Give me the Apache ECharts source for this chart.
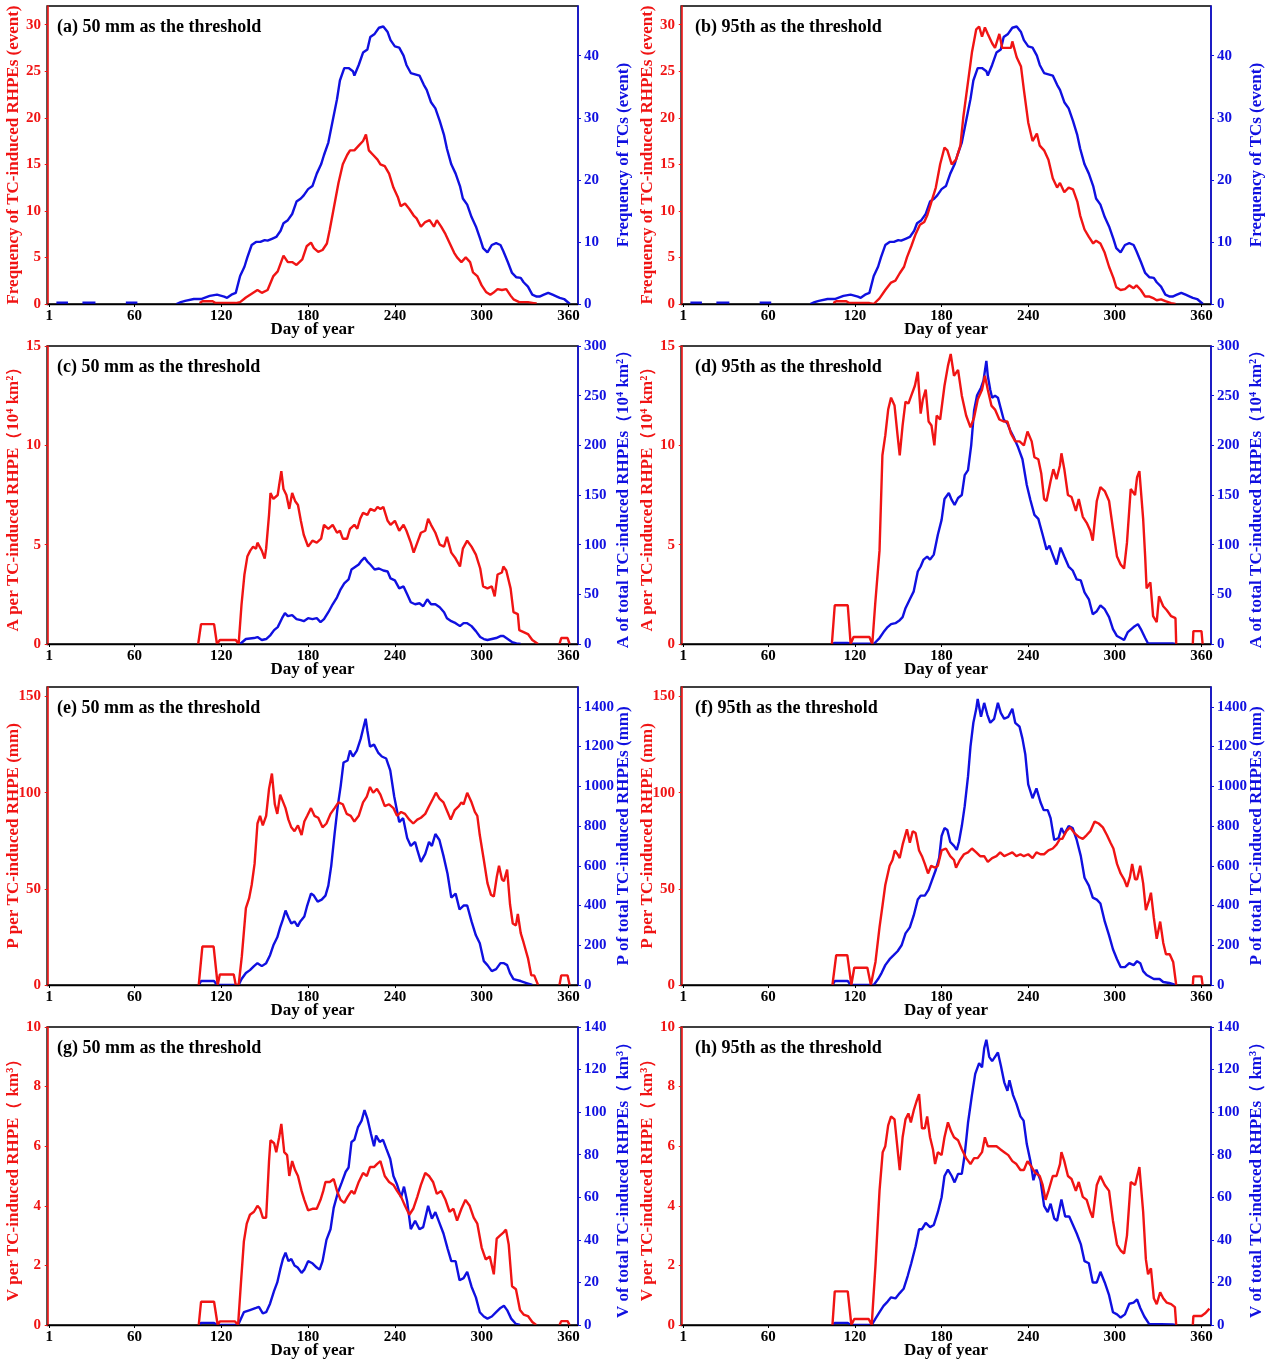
<!DOCTYPE html>
<html><head><meta charset="utf-8">
<script src="https://cdn.jsdelivr.net/npm/echarts@6/dist/echarts.min.js"></script>
<style>html,body{margin:0;padding:0;background:#fff}#c{width:1266px;height:1362px}</style>
</head><body><div id="c"></div>
<script>
// ---------- tick labels ----------
const dayTicks = [1, 60, 120, 180, 240, 300, 360];
const freqTicks = [0, 5, 10, 15, 20, 25, 30];
const tcTicks = [0, 10, 20, 30, 40];
const areaTicks = [0, 5, 10, 15];
const areaTotTicks = [0, 50, 100, 150, 200, 250, 300];
const precTicks = [0, 50, 100, 150];
const precTotTicks = [0, 200, 400, 600, 800, 1000, 1200, 1400];
const volTicks = [0, 2, 4, 6, 8, 10];
const volTotTicks = [0, 20, 40, 60, 80, 100, 120, 140];

// ---------- series values: [day of year, value]; null = no value ----------
const tcFreq = [[6,0.2],[14,0.2],[15,null],[24,0.2],[33,0.2],[34,null],[54,0.2],[62,0.2],[63,null],[89,0],[92,0.3],[95,0.5],[101,0.8],[106,0.8],[112,1.3],[117,1.5],[122,1.2],[124,1.0],[127,1.5],[130,1.8],[133,4.5],[136,6],[138,7.5],[141,9.5],[144,10],[147,10],[150,10.3],[152,10.2],[155,10.5],[158,10.8],[161,11.8],[163,13],[166,13.5],[169,14.5],[172,16.5],[175,17],[177,17.5],[180,18.5],[183,19],[186,21],[189,22.5],[191,24],[194,26],[197,29.5],[200,33],[202,36],[205,38],[208,38],[211,37.5],[212,36.8],[215,38.5],[218,40.5],[221,41],[223,43],[226,43.5],[229,44.5],[232,44.7],[235,43.8],[237,42.5],[240,41.5],[243,41.3],[246,40],[248,38.5],[251,37.2],[254,37],[257,36.8],[260,35.3],[262,34.5],[265,32.5],[268,31.5],[271,29.5],[274,27.2],[276,25],[279,22.5],[282,21],[285,19],[287,17],[290,16],[293,14],[296,12.5],[299,10.5],[301,9],[304,8.3],[307,9.5],[310,9.8],[313,9.5],[315,8.5],[318,6.8],[321,5],[324,4.3],[327,4.2],[329,3.5],[332,2.8],[335,1.5],[338,1.2],[340,1.2],[343,1.5],[346,1.8],[349,1.5],[352,1.2],[354,1.0],[357,0.8],[360,0.2],[361,0]];

const freq50 = [[105,0.1],[107,0.3],[114,0.3],[116,0.1],[130,0.1],[133,0.2],[137,0.7],[141,1.1],[145,1.5],[148,1.2],[152,1.5],[156,3],[159,3.5],[163,5.2],[166,4.5],[169,4.5],[172,4.2],[176,4.8],[179,6.2],[182,6.6],[184,6],[187,5.6],[190,5.8],[193,6.5],[195,8],[198,10.5],[201,13],[204,15],[207,16],[209,16.5],[212,16.5],[215,17],[218,17.5],[220,18.2],[222,16.5],[225,16],[228,15.5],[230,15],[233,14.8],[236,14],[239,12.5],[242,11.5],[244,10.5],[247,10.8],[250,10.2],[253,9.5],[255,9.2],[258,8.3],[261,8.8],[264,9],[267,8.3],[269,9],[272,8.3],[275,7.5],[278,6.5],[281,5.5],[283,5],[286,4.5],[289,5],[292,4.5],[294,3.4],[297,3],[300,2],[303,1.3],[306,1],[308,1.2],[311,1.6],[314,1.5],[317,1.6],[320,0.9],[322,0.5],[326,0.2],[332,0.2],[336,0.1],[338,0.05]];

const freq95 = [[105,0.1],[107,0.3],[114,0.3],[116,0.1],[130,0.1],[133,0],[137,0.6],[141,1.5],[145,2.3],[148,2.5],[151,3.3],[154,4],[156,5],[159,6.2],[162,7.5],[165,8.5],[168,8.8],[170,9.5],[173,11],[176,12.5],[179,15],[182,16.8],[183,17],[184,16.5],[187,15],[190,15.5],[193,17],[195,20],[198,23.5],[201,27],[204,29.5],[206,29.8],[208,28.7],[210,29.7],[212,29],[215,28],[217,27.5],[220,29],[222,27.5],[225,27.5],[228,27.5],[229,28.2],[232,26.5],[235,25.5],[237,23],[240,19.5],[243,17.5],[246,18.3],[248,17],[251,16.5],[254,15.5],[257,13.5],[260,12.5],[262,13],[265,12],[268,12.5],[271,12.3],[274,11],[276,9.5],[279,8],[282,7.2],[285,6.5],[287,6.8],[290,6.5],[293,5.5],[296,4],[299,2.8],[301,1.8],[304,1.5],[307,1.6],[310,2],[313,1.7],[315,2],[318,1.5],[321,0.8],[324,0.8],[327,0.6],[329,0.4],[332,0.5],[335,0.3],[339,0.1],[342,0]];

const areaPer50 = [[104,0],[106,1.0],[115,1.0],[117,0],[119,0.2],[130,0.2],[132,0],[134,2],[136,3.5],[138,4.4],[140,4.7],[142,4.9],[144,4.8],[145,5.1],[148,4.7],[150,4.3],[151,4.8],[153,6.5],[154,7.6],[156,7.3],[159,7.5],[160,8],[161.5,8.7],[163,7.8],[165,7.5],[167,6.8],[169,7.6],[171,7.2],[173,7],[175,6.2],[177,5.5],[180,4.9],[183,5.2],[186,5.1],[189,5.3],[191,6],[194,5.8],[197,6],[200,5.6],[202,5.7],[204,5.3],[207,5.3],[209,5.8],[212,6],[214,5.8],[216,6.3],[218,6.6],[221,6.5],[223,6.8],[226,6.7],[228,6.9],[230,6.8],[232,6.9],[235,6.2],[237,6.0],[240,6.2],[243,5.7],[246,6.0],[248,5.7],[251,5.1],[253,4.6],[255,5],[258,5.6],[261,5.7],[263,6.3],[265,6],[268,5.6],[271,5.0],[274,4.9],[276,5.4],[279,4.6],[282,4.3],[285,3.9],[287,4.8],[290,5.2],[293,4.9],[296,4.5],[299,3.8],[301,2.9],[304,2.8],[307,2.9],[309,2.4],[311,3.5],[314,3.6],[315,3.9],[317,3.7],[320,2.8],[322,1.6],[325,1.5],[326,0.7],[329,0.6],[332,0.5],[335,0.2],[338,0.05],[339,0],[346,null],[353.8,0],[355,0.3],[359.4,0.3],[360.8,0]];

const areaTot50 = [[131,0],[133,0],[137,5],[142.6,6],[145,7],[148,4],[151,5],[154,9],[156.5,14],[159,17],[162,26],[164,31],[166,28],[169,29],[172,25],[175,24],[177,23],[180,26],[183,25],[186,26],[188.6,22],[191,25],[194,32],[197,40],[200,47],[202.5,55],[205,61],[208,65],[210,75],[212,77],[215,80],[217,84],[219,87],[221,83],[223,80],[226,75],[229,76],[232,74],[235,73],[237,66],[240,64],[243,56],[246,58],[248.5,50],[251,42],[254,40],[257,41],[259.6,38],[262.4,45],[265,40],[268,40],[271,37],[274,32],[276,26],[279,23],[282,21],[285,18],[287.5,21],[290,21],[293,18],[296,13],[299,7],[301.5,5],[304,4],[307,5],[310,6],[313,8],[315,8],[318,5],[321,2],[324,0.5],[327,0]];

const areaPer95 = [[104,0],[106,1.95],[115,1.95],[117,0],[119,0.35],[130,0.35],[132,0],[134,2],[137,4.7],[139,9.5],[141,10.5],[143,11.8],[145,12.4],[147.4,12],[149.5,10.5],[151,9.5],[153,11],[155,12.2],[157,12.1],[159,12.5],[161.5,13],[163.5,13.7],[165.5,11.6],[167,12.3],[169,12.8],[171,11.2],[173,11],[175,10],[176.6,11.5],[179,11.3],[180,11.3],[182,13],[184.4,14],[186.3,14.6],[188.6,13.5],[191.4,13.8],[194,12.5],[197,11.5],[200,10.9],[202.5,11.4],[205,12.3],[208,12.8],[210,13.5],[212,12.8],[214.5,12.0],[217,11.8],[220,11.3],[223,11.2],[225.6,11.2],[228,10.6],[231,10.2],[234,10.2],[237,10.0],[239.5,10.7],[242.4,10.2],[244.3,9.4],[247,9.3],[249,8.6],[251,7.3],[252.7,7.2],[255.5,8.2],[257.4,8.8],[259.6,8.3],[262,9],[263,9.6],[265,8.8],[267.5,7.5],[270,7.4],[273,6.7],[275,7.3],[277.8,6.4],[280.5,6.1],[283,5.7],[284.7,5.2],[287.5,7.2],[290,7.9],[293,7.7],[296,7.2],[298.7,5.8],[301.5,4.4],[304,4.0],[306.4,3.8],[308.4,5.1],[311,7.8],[314,7.5],[315.4,8.4],[317,8.7],[319.6,6.3],[321,4.4],[322,2.8],[324.6,3.1],[326.5,1.4],[329,1.1],[330.6,2.4],[333.5,1.9],[336,1.7],[339,1.4],[342,1.3],[342.5,0],[348,null],[354,0],[354.4,0.65],[360,0.65],[360.8,0]];

const areaTot95 = [[104,0],[106,1],[115,1],[117,0.3],[131,0.3],[133,0],[137,6],[139.8,12],[142.6,17],[145,20],[148,21],[151,24],[153,27],[155,36],[158,45],[160.7,53],[163.5,73],[165.5,78],[167.5,85],[170,88],[172,85],[174.6,90],[177.4,110],[180,125],[182,146],[185,152],[187,145],[189,140],[191.4,147],[194,150],[196,170],[198.3,175],[200.5,200],[202.5,235],[204.5,250],[207.3,258],[209,265],[211,285],[212,270],[213.7,256],[215,248],[217,250],[219,248],[221,237],[223,226],[225.6,222],[227.6,215],[230,208],[233,198],[236,186],[239,160],[241.5,145],[244.3,130],[247,126],[250,110],[252.7,95],[254.7,99],[257,90],[259.6,80],[262.4,97],[265,88],[268,78],[270.8,74],[273.6,65],[276.4,64],[279,52],[282,45],[284.7,30],[287.5,33],[290,39],[293,35],[296,27],[298.7,15],[301.5,8],[304,6],[306.4,4],[309,12],[313,17],[316,20],[318,15],[321,6],[323,0.5],[340,0.5],[342,0]];

const precPer50 = [[104.4,0],[106.9,20],[114.7,20],[117.5,0],[119,5.5],[128.6,5.5],[130,0],[132,0],[134.2,15],[137,40],[139.2,45],[141,52],[143,63],[145,84],[146.8,88],[148.7,83],[151,88],[153,102],[155,110],[157,94],[158.7,89],[160.7,99],[162,100],[164.4,92],[166.4,86],[168.4,82],[170.6,80],[173,83],[175.5,78],[177.4,85],[179.4,88],[182,92],[184.4,88],[187,87],[190,82],[192.7,84],[195.5,89],[198.3,92],[201,95],[204,94],[206.7,89],[209.5,88],[212,85],[215,88],[218,95],[220.6,98],[222.8,103],[225,100],[227.6,102],[230,99],[233,93],[236,94],[239,92],[241.5,88],[244.3,90],[247,89],[250,86],[252.7,84],[255.5,86],[258,87],[261,89],[263.6,93],[266.4,97],[268.4,100],[270.8,97],[273.6,95],[276.4,90],[278.6,86],[281.4,91],[284.2,93],[286,95],[287.5,94],[290,100],[293,95],[295.3,90],[297,88],[298.7,78],[301.5,65],[304,53],[306.4,47],[308.4,46],[310.4,56],[312,62],[314,55],[315.4,54],[317.6,60],[319.6,42],[321.5,32],[323.7,31],[325,37],[327,27],[329,22],[332,14],[334.3,5],[336.3,5],[339,0],[346,null],[353.8,0],[355,5],[359.4,5],[360.8,0]];

const precTot50 = [[104.4,0],[106,20],[115,20],[117,0],[132,0],[134,30],[137,60],[139.8,75],[142.6,95],[145,110],[148,95],[151,110],[153.7,150],[156,200],[158.7,240],[160.7,290],[162.6,330],[164.4,375],[166.4,340],[168.4,310],[170.6,320],[172.8,295],[174.6,320],[177.4,345],[179.4,400],[182,460],[184,450],[186.6,420],[189.4,430],[192,450],[194,500],[196,600],[198.3,760],[200.5,900],[202.5,1000],[204.5,1120],[207.3,1130],[209,1180],[211,1150],[213.7,1180],[216.4,1240],[218.4,1300],[219.8,1340],[221,1280],[222.8,1200],[225.6,1210],[228.4,1170],[231,1150],[234,1140],[236.8,1080],[239.5,950],[243,820],[245.7,840],[248.5,740],[251,700],[254,720],[255.5,680],[258,620],[261,660],[263.6,720],[265.6,700],[268,760],[270.8,730],[273.6,650],[276.4,560],[279,440],[282,460],[284.7,380],[287.5,400],[290,400],[293,320],[296,250],[298.7,210],[301.5,120],[304,100],[307,70],[310,80],[313,110],[315.4,110],[317.6,100],[319.6,60],[322,30],[327,20],[331,10],[335,0]];

const precPer95 = [[104.4,0],[107,15.5],[114.7,15.5],[117.5,0],[119.5,9],[128.6,9],[131,0],[134.2,12],[137,30],[139.2,42],[141,52],[144,62],[146,65],[147.6,70],[149.5,68],[151,66],[153,73],[156,81],[158,74],[160,80],[162,79],[164.4,70],[166.4,67],[168.4,63],[170.6,58],[172.8,62],[175.5,61],[177.4,62],[180,70],[183,71],[186,67],[188.6,65],[190,61],[192.7,65],[195.5,68],[198.3,69],[201,71],[204,69],[206.7,67],[209.5,67],[212,64],[215,66],[218,67],[220.6,69],[223.4,67],[226.2,68],[229,69],[231.8,67],[234.6,68],[237,67],[240,68],[243,66],[245.7,69],[248.5,68],[251,68],[254,70],[257,71],[259.6,73],[262,76],[263.6,76],[266.4,80],[269,82],[272,79],[275,77],[277.8,76],[280.5,78],[283,80],[286,85],[288.8,84],[291.7,82],[294.5,78],[297,74],[299,71],[301.5,63],[304,58],[306.4,55],[308.4,51],[310.4,56],[312,63],[314,55],[315.4,55],[317.6,62],[319.6,53],[321.5,39],[323.7,44],[325,48],[327,35],[329,24],[331.4,33],[333.5,22],[335.4,16],[338,16],[340.4,12],[342.5,0],[348,null],[354,0],[354.4,4.5],[360,4.5],[360.8,0]];

const precTot95 = [[104.4,0],[106,20],[115,20],[117,0],[133,0],[136,30],[138.4,60],[141,100],[144,130],[146.8,150],[149.5,170],[152.3,200],[155,260],[158,290],[160.7,350],[163.5,430],[165.5,450],[168.4,450],[171,480],[173,520],[176,580],[178.3,640],[180,750],[182,790],[184,780],[186,720],[188.6,700],[190.5,680],[192,720],[194,800],[196,900],[198.3,1050],[200,1200],[202,1320],[204,1390],[205,1440],[207.3,1350],[209.5,1420],[211.7,1360],[213.7,1320],[216.4,1340],[219,1420],[221,1370],[223.4,1340],[226.2,1350],[229,1390],[231,1320],[234,1300],[236,1240],[238,1160],[240,1010],[243,940],[245.7,990],[248.5,920],[250.7,880],[253.5,880],[255.5,840],[258,730],[261,740],[263,790],[265,760],[268,800],[270.8,790],[273.6,730],[276.4,650],[279,540],[282,500],[284.7,440],[287.5,430],[290,410],[293,320],[296,250],[298.7,180],[301.5,130],[304,90],[307,90],[310,110],[313,100],[315.4,120],[317.6,110],[319.6,70],[322,50],[327,30],[331,30],[333.5,15],[337.7,10],[342,0]];

const volPer50 = [[104.4,0],[106,0.78],[115,0.78],[117.5,0],[119,0.12],[129.5,0.12],[131.6,0],[133.7,1.5],[135.6,2.8],[137.6,3.4],[139.8,3.7],[142.6,3.8],[145,4],[146.8,3.9],[148.7,3.6],[151,3.6],[153,5.5],[154,6.2],[156.5,6.1],[158,5.8],[160,6.3],[161.5,6.75],[163.5,5.8],[165.5,5.7],[167,5.0],[169,5.5],[171,5.2],[173,5.0],[175.5,4.5],[177.4,4.2],[180,3.85],[183,3.9],[186,3.9],[188.6,4.2],[190.5,4.5],[192,4.8],[195,4.8],[197.7,4.9],[200,4.5],[202.5,4.2],[205,4.1],[207.3,4.3],[210,4.5],[212,4.4],[215,4.8],[218,5.1],[220.6,5.0],[222.8,5.3],[225.6,5.3],[227.6,5.4],[230,5.5],[233,5.0],[236,4.8],[239,4.7],[241.5,4.5],[244.3,4.3],[247,4.0],[250,3.7],[252.7,3.9],[255.5,4.3],[258,4.7],[261,5.1],[263.6,5.0],[266.4,4.8],[269,4.4],[272,4.5],[275,4.2],[277.8,3.8],[280.5,3.9],[283,3.5],[286,3.9],[288.8,4.2],[291.7,4.0],[294.5,3.6],[297,3.4],[300,2.6],[302.8,2.2],[305.6,2.3],[308.4,1.7],[310.4,2.9],[312.6,3.0],[315,3.1],[316.8,3.2],[318.7,2.7],[321,1.3],[323.7,1.2],[326.5,0.5],[329,0.35],[332,0.3],[335,0.1],[337.7,0],[346,null],[353.8,0],[355,0.13],[359.4,0.13],[360.8,0]];

const volTot50 = [[104.4,0],[106,1],[115,1],[117,0],[131.6,0],[135.6,6],[139.8,7],[144,8],[146,8.5],[148.7,5.5],[151,6],[153.7,10],[156.5,16],[158.7,20],[160.7,26],[162.6,31],[164.4,34],[166.4,30],[168.4,31],[170.6,28],[172.8,27],[175.5,24.5],[177.4,26],[180,30],[183,29],[186,27],[188,26],[190,30],[192.7,40],[195.5,45],[197.7,55],[200.5,62],[203.3,67],[206,72],[208,74],[210,86],[212,87],[214.5,93],[217,96],[219,101],[221,97],[223.4,90],[225.6,84],[227,89],[229.5,86],[231.8,87],[234,83],[236.8,78],[239,70],[241.5,66],[244.3,60],[246.3,65],[248.5,58],[251,45],[254,49],[257,45],[259.6,46],[263,56],[265.6,50],[268,53],[270.8,48],[273.6,43],[276.4,36],[279,30],[282,30],[284.7,21],[287.5,22],[290,25],[293,18],[296,13],[298.7,6],[301.5,4],[304,3],[307,4],[310,6],[313,8],[315.4,9],[317.6,7],[320.4,3],[323.7,0.5],[326.5,0]];

const volPer95 = [[104.4,0],[106,1.13],[115,1.13],[117.5,0],[119.5,0.2],[129.5,0.2],[131.6,0],[134.2,2],[137,4.5],[139.2,5.8],[141,6.0],[143,6.7],[145,7.0],[147.4,6.9],[149.5,5.9],[151,5.2],[153,6.3],[155,6.9],[157,7.1],[158.7,6.8],[160.7,7.2],[162.6,7.5],[164.4,7.75],[166.4,6.6],[168.4,6.6],[170,7.0],[172,6.3],[174,5.9],[175.5,5.4],[177.4,5.8],[180,5.7],[182,6.3],[184.4,6.8],[186.6,6.5],[188.6,6.3],[191.4,6.2],[194,5.9],[197,5.6],[200,5.4],[202.5,5.6],[205,5.6],[208,5.8],[210,6.3],[212,6.0],[215,6.0],[218,6.0],[220.6,5.9],[223.4,5.8],[226.2,5.7],[229,5.5],[231.8,5.4],[234.6,5.2],[237,5.2],[239.5,5.5],[242.4,5.3],[245,5.1],[248,5.0],[250,4.7],[252,4.2],[254,4.5],[257,5.0],[259.6,5.0],[262,5.4],[263,5.8],[265,5.5],[267.5,5.0],[270,4.9],[273,4.5],[275,4.8],[277.8,4.3],[280.5,4.2],[283,3.8],[284.7,3.6],[287.5,4.7],[290,5.0],[293,4.7],[296,4.5],[298.7,3.5],[301.5,2.7],[304,2.5],[306.4,2.4],[308.4,3.0],[311,4.8],[314,4.7],[316,5.1],[317,5.3],[319.6,3.8],[321.5,2.2],[323,1.7],[325,1.9],[327,0.9],[329,0.7],[331.4,1.1],[333.5,0.9],[336,0.75],[339,0.7],[341.6,0.6],[342.5,0],[348,null],[354,0],[354.4,0.3],[360,0.3],[362.8,0.4],[365.5,0.55]];

const volTot95 = [[104.4,0],[106,1],[115,1],[117,0],[131.6,0],[134.2,3],[137,6],[139.8,9],[142.6,11],[145,13],[148,12.5],[151,15],[153.7,17],[156.5,23],[159,29],[162,37],[164.4,45],[166.4,45],[169,48],[172,46],[174.6,47],[177.4,53],[180,60],[182,70],[184.4,73],[187,70],[189,67],[191.4,71],[194,71],[196,80],[198.3,95],[201,108],[203.3,118],[206,123],[208,121],[209.5,130],[211,134],[213,126],[215,124],[217,126],[219,128],[221,122],[223.4,114],[225.6,110],[227,115],[229.5,108],[231.8,104],[234.6,98],[236.8,96],[239,85],[241.5,77],[243.6,68],[245.7,73],[248.5,68],[251,56],[253.5,53],[255.5,57],[258,50],[260,49],[263,59],[265.6,51],[268.4,51],[271,47],[273.6,43],[276.4,38],[279,30],[282,29],[284.7,20],[287.5,20],[290,25],[293,20],[296,14],[298.7,6],[301.5,5],[304,3.5],[307,5],[310,10],[313,10.5],[315.4,12],[317.6,8],[320.4,4],[323.7,0.5],[340,0.3],[342,0]];

// ---------- panel text ----------
const panelTitles = ['(a) 50 mm as the threshold', '(b) 95th as the threshold',
  '(c) 50 mm as the threshold', '(d) 95th as the threshold',
  '(e) 50 mm as the threshold', '(f) 95th as the threshold',
  '(g) 50 mm as the threshold', '(h) 95th as the threshold'];
const leftNames = ['Frequency of TC-induced RHPEs (event)', 'A per TC-induced RHPE（10⁴ km²）',
  'P per TC-induced RHPE (mm)', 'V per TC-induced RHPE（ km³）'];
const rightNames = ['Frequency of TCs (event)', 'A of total TC-induced RHPEs（10⁴ km²）',
  'P of total TC-induced RHPEs (mm)', 'V of total TC-induced RHPEs（ km³）'];
const xName = 'Day of year';

// ---------- assembly ----------
const RED = '#f01414', BLUE = '#1010e0';
const FONT = '"Liberation Serif","Times New Roman",serif';
const rows = [
  {left: [0, 32, freqTicks], right: [0, 48, tcTicks], red: [freq50, freq95], blue: [tcFreq, tcFreq]},
  {left: [0, 15, areaTicks], right: [0, 300, areaTotTicks], red: [areaPer50, areaPer95], blue: [areaTot50, areaTot95]},
  {left: [0, 155, precTicks], right: [0, 1500, precTotTicks], red: [precPer50, precPer95], blue: [precTot50, precTot95]},
  {left: [0, 10, volTicks], right: [0, 140, volTotTicks], red: [volPer50, volPer95], blue: [volTot50, volTot95]}
];
const colLeft = [47, 681], colW = 531;
const rowTop = [6, 346, 687, 1027], rowH = 298;

const grid = [], xAxis = [], yAxis = [], series = [], graphic = [];
const toData = arr => arr.map(p => [p[0], p[1] === null ? '-' : p[1]]);
const plain = v => String(v);
const yAxisOf = (gi, pos, range, ticks, name, color, gap) => ({
  type: 'value', gridIndex: gi, position: pos, min: range[0], max: range[1],
  name, nameLocation: 'middle', nameRotate: 90, nameGap: gap, nameMoveOverlap: false,
  nameTextStyle: {fontFamily: FONT, fontWeight: 'bold', fontSize: 17, color},
  axisLine: {show: true, lineStyle: {color, width: 1.6}},
  axisTick: {show: true, length: 3, customValues: ticks, lineStyle: {color}},
  axisLabel: {customValues: ticks, formatter: plain, margin: 6, fontFamily: FONT, fontWeight: 'bold', fontSize: 15, color},
  splitLine: {show: false}, z: 3});

rows.forEach((r, ri) => {
  [0, 1].forEach(ci => {
    const gi = grid.length;
    grid.push({left: colLeft[ci], top: rowTop[ri], width: colW, height: rowH,
      show: true, borderColor: '#000', borderWidth: 1.3, backgroundColor: 'transparent'});
    xAxis.push({type: 'value', gridIndex: gi, min: -0.5, max: 366.6,
      name: xName, nameLocation: 'middle', nameGap: 17, nameMoveOverlap: false,
      nameTextStyle: {fontFamily: FONT, fontWeight: 'bold', fontSize: 17, color: '#000'},
      axisLine: {show: true, lineStyle: {color: '#000', width: 1.3}},
      axisTick: {show: true, inside: false, length: 3, customValues: dayTicks, lineStyle: {color: '#000'}},
      axisLabel: {customValues: dayTicks, formatter: plain, margin: 5, fontFamily: FONT, fontWeight: 'bold', fontSize: 15, color: '#000'},
      splitLine: {show: false}, z: 3});
    const yi = yAxis.length;
    yAxis.push(yAxisOf(gi, 'left', [r.left[0], r.left[1]], r.left[2], leftNames[ri], RED, 25));
    yAxis.push(yAxisOf(gi, 'right', [r.right[0], r.right[1]], r.right[2], rightNames[ri], BLUE, 37));
    series.push({type: 'line', xAxisIndex: gi, yAxisIndex: yi + 1, data: toData(r.blue[ci]),
      showSymbol: false, symbol: 'none', connectNulls: false, lineStyle: {color: BLUE, width: 2.4}, z: 2});
    series.push({type: 'line', xAxisIndex: gi, yAxisIndex: yi, data: toData(r.red[ci]),
      showSymbol: false, symbol: 'none', connectNulls: false, lineStyle: {color: RED, width: 2.4}, z: 2});
    graphic.push({type: 'text', x: colLeft[ci] + (ci === 0 ? 10 : 14), y: rowTop[ri] + 21,
      style: {text: panelTitles[ri * 2 + ci], font: 'bold 18px ' + FONT, fill: '#000', textVerticalAlign: 'middle'}});
  });
});

const chart = echarts.init(document.getElementById('c'), null, {renderer: 'canvas'});
chart.setOption({animation: false, backgroundColor: '#fff', grid, xAxis, yAxis, series, graphic});
</script></body></html>
